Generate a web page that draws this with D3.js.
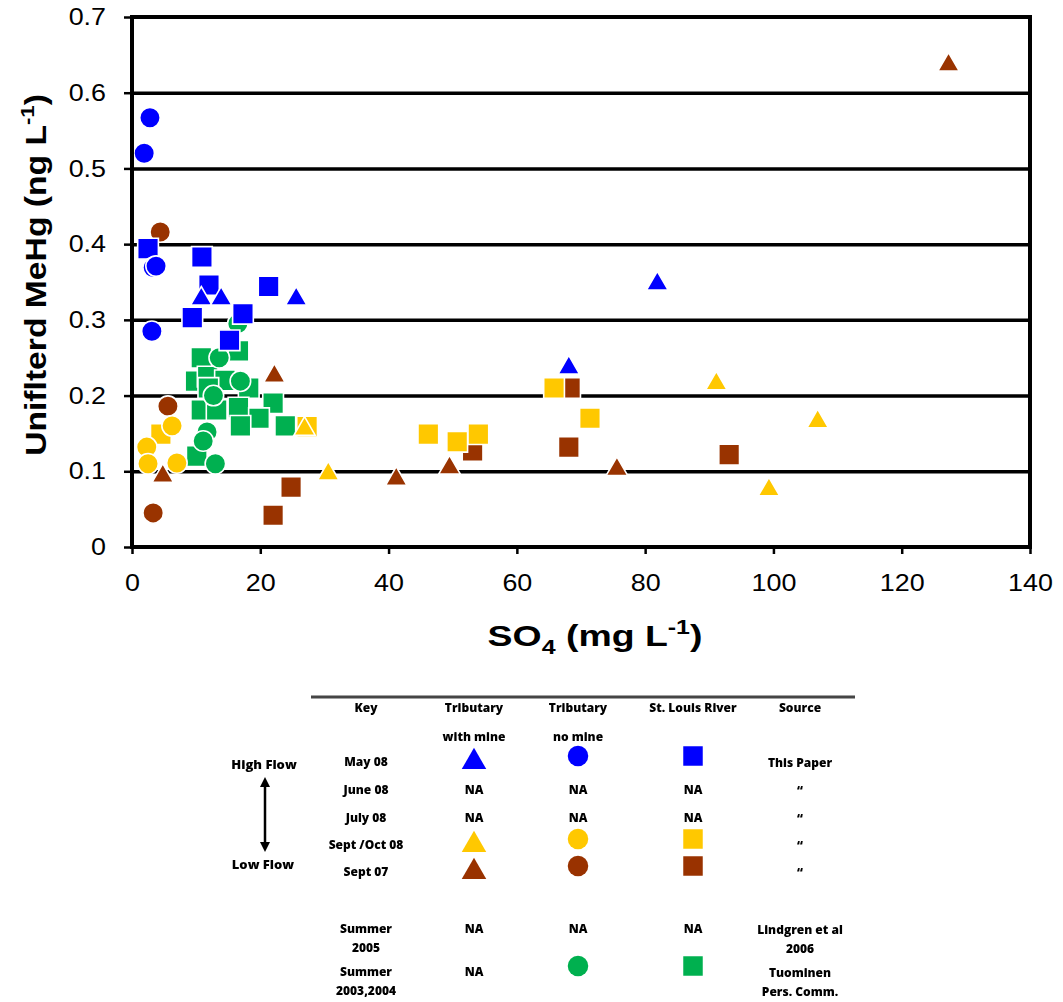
<!DOCTYPE html>
<html>
<head>
<meta charset="utf-8">
<script src="https://cdn.jsdelivr.net/npm/d3@7"></script>
<style>
  html, body { margin: 0; padding: 0; background: #fff; }
  svg { display: block; }
</style>
</head>
<body>
<svg id="chart" width="1063" height="1002"></svg>
<script>
// ---- Axis ticks ----
const xTicks = [0, 20, 40, 60, 80, 100, 120, 140];
const yTicks = [0, 0.1, 0.2, 0.3, 0.4, 0.5, 0.6, 0.7];

// ---- Observations: [SO4 mg/L, unfiltered MeHg ng/L] ----
// Sept 07 (low flow)
const sep07Mine   = [[4.8, 0.095], [22.2, 0.227], [41.2, 0.091], [49.5, 0.106], [75.6, 0.104], [127.3, 0.638]];
const sep07NoMine = [[4.4, 0.416], [5.6, 0.186], [3.3, 0.045]];
const sep07River  = [[24.8, 0.079], [22.0, 0.042], [53.1, 0.127], [68.1, 0.132], [68.3, 0.21], [93.1, 0.122]];
// Summer 2003, 2004
const sum0304River = [[10.8, 0.25], [16.6, 0.259], [9.9, 0.219], [11.8, 0.225], [14.5, 0.22], [11.9, 0.21],
                      [18.2, 0.21], [10.8, 0.181], [13.2, 0.181], [16.6, 0.184], [22.0, 0.19], [19.8, 0.17],
                      [16.9, 0.16], [23.9, 0.16], [10.1, 0.12]];
const sum0304NoMine = [[16.5, 0.295], [13.6, 0.25], [16.9, 0.219], [12.7, 0.2], [11.7, 0.152], [11.1, 0.14], [13.0, 0.11]];
// Sept / Oct 08
const sepOct08River  = [[4.5, 0.149], [27.3, 0.159], [46.2, 0.149], [50.7, 0.139], [54.0, 0.149], [65.8, 0.21], [71.4, 0.17]];
const sepOct08Mine   = [[26.9, 0.157], [30.6, 0.098], [91.1, 0.217], [106.9, 0.167], [99.3, 0.077]];
const sepOct08NoMine = [[6.25, 0.16], [2.3, 0.132], [2.5, 0.11], [7.0, 0.111]];
// May 08 (high flow)
const may08River  = [[2.5, 0.394], [10.9, 0.383], [21.3, 0.344], [12.0, 0.346], [9.4, 0.303], [17.3, 0.308], [15.2, 0.273]];
const may08Mine   = [[10.8, 0.329], [13.9, 0.329], [25.6, 0.329], [68.1, 0.238], [81.9, 0.349]];
const may08NoMine = [[2.8, 0.567], [1.9, 0.52], [3.3, 0.369], [3.75, 0.371], [3.1, 0.285]];

// ---- Legend table contents ----
const legendHeaders = [["Key", ""], ["Tributary", "with mine"], ["Tributary", "no mine"], ["St. Louis River", ""], ["Source", ""]];
const legendRows = [
  { key: ["May 08"],            cells: ["triangle", "circle", "square"], color: "#0000ff", source: ["This Paper"] },
  { key: ["June 08"],           cells: ["NA", "NA", "NA"],             color: null,      source: ["\u201c"] },
  { key: ["July 08"],           cells: ["NA", "NA", "NA"],             color: null,      source: ["\u201c"] },
  { key: ["Sept /Oct 08"],      cells: ["triangle", "circle", "square"], color: "#ffc800", source: ["\u201c"] },
  { key: ["Sept 07"],           cells: ["triangle", "circle", "square"], color: "#993300", source: ["\u201c"] },
  { key: ["Summer", "2005"],    cells: ["NA", "NA", "NA"],             color: null,      source: ["Lindgren et al", "2006"] },
  { key: ["Summer", "2003,2004"], cells: ["NA", "circle", "square"],   color: "#00b050", source: ["Tuominen", "Pers. Comm."] }
];

const colors = { blue: "#0000ff", green: "#00b050", yellow: "#ffc800", brown: "#993300" };

// Draw order: earlier series sit underneath later ones
const series = [
  { data: sep07River,     shape: "square",   color: colors.brown },
  { data: sep07Mine,      shape: "triangle", color: colors.brown },
  { data: sep07NoMine,    shape: "circle",   color: colors.brown },
  { data: sum0304River,   shape: "square",   color: colors.green },
  { data: sum0304NoMine,  shape: "circle",   color: colors.green },
  { data: sepOct08River,  shape: "square",   color: colors.yellow },
  { data: sepOct08Mine,   shape: "triangle", color: colors.yellow },
  { data: sepOct08NoMine, shape: "circle",   color: colors.yellow },
  { data: may08River,     shape: "square",   color: colors.blue },
  { data: may08Mine,      shape: "triangle", color: colors.blue },
  { data: may08NoMine,    shape: "circle",   color: colors.blue }
];

const svg = d3.select("#chart");
const plotLeft = 132, plotRight = 1030, plotTop = 17, plotBottom = 547;
const axisFont = "Liberation Sans, Arial, sans-serif";
const tickStretch = 1.12;   // tick labels are set slightly wide

const x = d3.scaleLinear().domain([0, 140]).range([plotLeft, plotRight]);
const y = d3.scaleLinear().domain([0, 0.7]).range([plotBottom, plotTop]);

const symbolFor = {
  square: d3.symbol().type(d3.symbolSquare).size(430),
  circle: d3.symbol().type(d3.symbolCircle).size(330),
  triangle: d3.symbol().type(d3.symbolTriangle).size(200)
};

// ---- Gridlines ----
svg.append("g")
  .attr("transform", `translate(${plotLeft},0)`)
  .call(d3.axisLeft(y).tickValues(yTicks.slice(1, -1)).tickSize(-(plotRight - plotLeft)).tickFormat(""))
  .call(g => g.select(".domain").remove())
  .call(g => g.selectAll("line").attr("stroke", "#000").attr("stroke-width", 3.5));

// ---- Markers ----
const marks = svg.append("g");
series.forEach(s => {
  marks.append("g").selectAll("path")
    .data(s.data)
    .join("path")
    .attr("d", symbolFor[s.shape])
    .attr("transform", d => `translate(${x(d[0])},${y(d[1]) + (s.shape === "triangle" ? 1 : 0)})`)
    .attr("fill", s.color)
    .attr("stroke", "#fff")
    .attr("stroke-width", 1.6);
});

// ---- Plot frame ----
svg.append("rect")
  .attr("x", plotLeft).attr("y", plotTop)
  .attr("width", plotRight - plotLeft).attr("height", plotBottom - plotTop)
  .attr("fill", "none").attr("stroke", "#000").attr("stroke-width", 4);

// ---- Axes ----
const yAxis = svg.append("g")
  .attr("transform", `translate(${plotLeft},0)`)
  .call(d3.axisLeft(y).tickValues(yTicks).tickSize(8).tickPadding(18).tickFormat(d => d === 0 ? "0" : d3.format(".1f")(d)));
yAxis.select(".domain").remove();
yAxis.selectAll("line").attr("stroke", "#000").attr("stroke-width", 2.5);
yAxis.selectAll("text")
  .attr("font-family", axisFont).attr("font-size", 24).attr("fill", "#000")
  .attr("x", -26 / tickStretch)
  .attr("transform", `scale(${tickStretch},1)`);

const xAxis = svg.append("g")
  .attr("transform", `translate(0,${plotBottom})`)
  .call(d3.axisBottom(x).tickValues(xTicks).tickSize(7).tickPadding(20).tickFormat(d3.format("d")));
xAxis.select(".domain").remove();
xAxis.selectAll("line").attr("stroke", "#000").attr("stroke-width", 2.5);
xAxis.selectAll("text")
  .attr("font-family", axisFont).attr("font-size", 24).attr("fill", "#000")
  .attr("transform", `scale(${tickStretch},1)`);

// ---- Axis titles ----
function fitWidth(sel, cx, cy, target, rotate) {
  const w = sel.node().getBBox().width;
  const s = target / w;
  sel.attr("transform", `translate(${cx},${cy})${rotate ? " rotate(-90)" : ""} scale(${s},1)`);
}

const xTitle = svg.append("text")
  .attr("text-anchor", "middle")
  .attr("font-family", axisFont)
  .attr("font-weight", "bold").attr("font-size", 30).attr("fill", "#000");
xTitle.append("tspan").text("SO");
xTitle.append("tspan").attr("font-size", 20).attr("dy", 8).text("4");
xTitle.append("tspan").attr("dy", -8).text(" (mg L");
xTitle.append("tspan").attr("font-size", 20).attr("dy", -12).text("-1");
xTitle.append("tspan").attr("dy", 12).text(")");
fitWidth(xTitle, 595, 646, 215, false);

const yTitle = svg.append("text")
  .attr("text-anchor", "middle")
  .attr("font-family", axisFont)
  .attr("font-weight", "bold").attr("font-size", 29).attr("fill", "#000");
yTitle.append("tspan").text("Uniflterd MeHg (ng L");
yTitle.append("tspan").attr("font-size", 19).attr("dy", -12).text("-1");
yTitle.append("tspan").attr("dy", 12).text(")");
fitWidth(yTitle, 46, 275, 362, true);

// ---- Legend table ----
const defs = svg.append("defs");
defs.append("filter").attr("id", "soft")
  .append("feGaussianBlur").attr("stdDeviation", 0.55);
defs.append("marker").attr("id", "arrowHead")
  .attr("viewBox", "0 0 10 10").attr("refX", 5).attr("refY", 5)
  .attr("markerWidth", 4).attr("markerHeight", 4).attr("orient", "auto-start-reverse")
  .append("path").attr("d", "M0,0 L10,5 L0,10 Z").attr("fill", "#000");

const legend = svg.append("g").attr("filter", "url(#soft)")
  .attr("font-family", "Open Sans, Liberation Sans, sans-serif")
  .attr("font-weight", 800).attr("font-size", 12).attr("fill", "#000")
  .attr("text-anchor", "middle");

const colX = [366, 474, 578, 693, 800];
const rowY = [762, 790, 818, 845, 872, 929, 972];

legend.append("line")
  .attr("x1", 311).attr("x2", 855).attr("y1", 697).attr("y2", 697)
  .attr("stroke", "#444").attr("stroke-width", 3);

legendHeaders.forEach((h, i) => {
  legend.append("text").attr("x", colX[i]).attr("y", 712).text(h[0]);
  if (h[1]) legend.append("text").attr("x", colX[i]).attr("y", 741).text(h[1]);
});

const legendSymbol = {
  triangle: d3.symbol().type(d3.symbolTriangle).size(260),
  circle: d3.symbol().type(d3.symbolCircle).size(330),
  square: d3.symbol().type(d3.symbolSquare).size(380)
};
const symbolOffset = { triangle: 0, circle: -6, square: -6 };

legendRows.forEach((r, i) => {
  const yy = rowY[i];
  r.key.forEach((k, j) => legend.append("text").attr("x", colX[0]).attr("y", yy + 4 + j * 19).text(k));
  r.cells.forEach((c, j) => {
    if (c === "NA") {
      legend.append("text").attr("x", colX[j + 1]).attr("y", yy + 4).text("NA");
    } else {
      legend.append("path")
        .attr("d", legendSymbol[c])
        .attr("transform", `translate(${colX[j + 1]},${yy + symbolOffset[c]})`)
        .attr("fill", r.color);
    }
  });
  r.source.forEach((s, j) => legend.append("text").attr("x", colX[4]).attr("y", yy + 5 + j * 19).text(s));
});

legend.append("text").attr("x", 264).attr("y", 769).attr("font-size", 13).text("High Flow");
legend.append("text").attr("x", 263).attr("y", 869).attr("font-size", 13).text("Low Flow");
legend.append("line")
  .attr("x1", 265).attr("x2", 265).attr("y1", 782).attr("y2", 847)
  .attr("stroke", "#000").attr("stroke-width", 2.5)
  .attr("marker-start", "url(#arrowHead)").attr("marker-end", "url(#arrowHead)");
</script>
</body>
</html>
